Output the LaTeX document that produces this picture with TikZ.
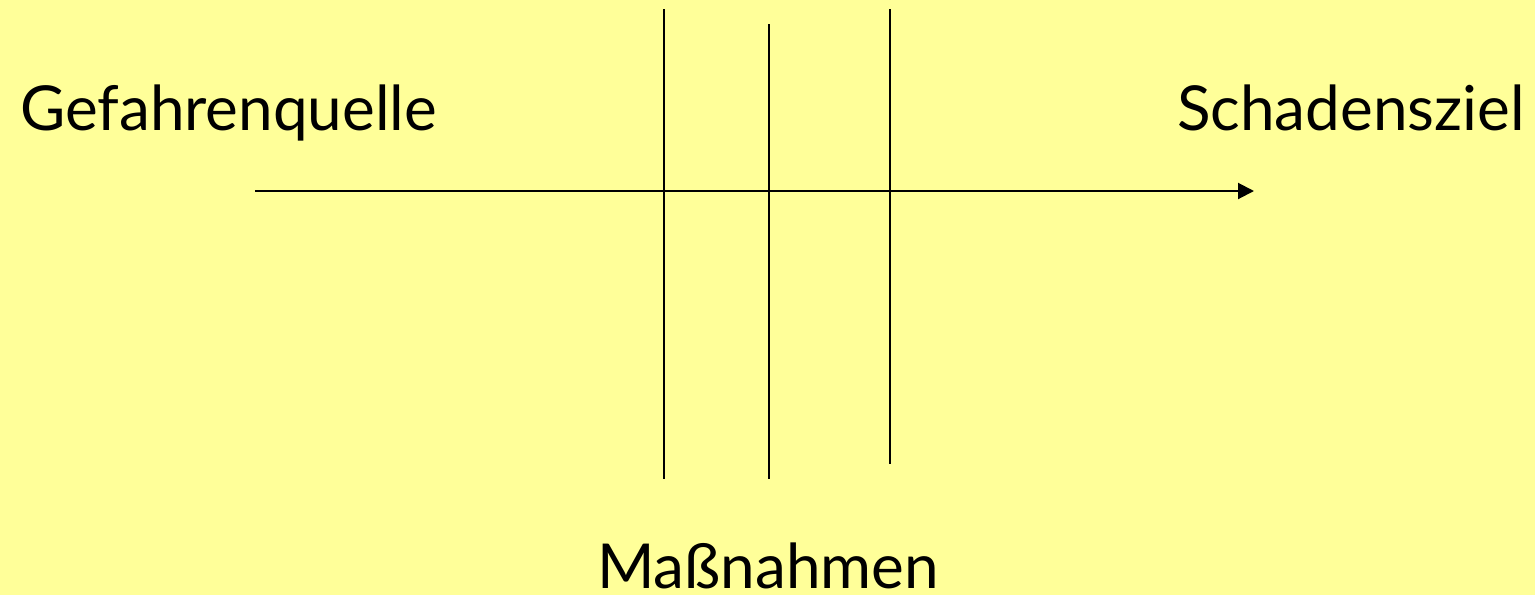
\documentclass[tikz,border=0pt]{standalone}
\usepackage{fontspec}
\setmainfont{Lato}
\usetikzlibrary{arrows.meta}
\definecolor{bg}{HTML}{FFFF99}
\tikzset{
  lbl/.style={inner sep=0pt, font=\fontsize{62}{70}\selectfont},
  bar/.style={line width=2pt, black},
  flow/.style={line width=2pt, black, -{Triangle[length=16pt,width=16pt]}}
}
\begin{document}
\begin{tikzpicture}[x=1pt,y=-1pt]
\fill[bg] (0,0) rectangle (1535,595);
\useasboundingbox (0,0) rectangle (1535,595);
\node[lbl, anchor=base west] (src) at (20,130) {Gefahrenquelle};
\node[lbl, anchor=base east] (dst) at (1525,130) {Schadensziel};
\node[lbl, anchor=base, text depth=0pt] (mass) at (768,588) {Maßnahmen};
\coordinate (a0) at (255,191);
\coordinate (a1) at (1254,191);
\draw[flow] (a0) -- (a1);
\coordinate (v1t) at (664,9);  \coordinate (v1b) at (664,479);
\coordinate (v2t) at (769,24); \coordinate (v2b) at (769,479);
\coordinate (v3t) at (890,9);  \coordinate (v3b) at (890,464);
\draw[bar] (v1t) -- (v1b);
\draw[bar] (v2t) -- (v2b);
\draw[bar] (v3t) -- (v3b);
\end{tikzpicture}
\end{document}
